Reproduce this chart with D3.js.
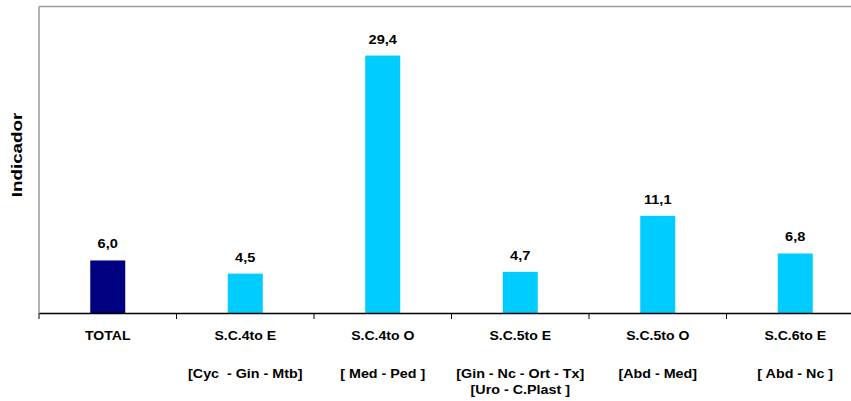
<!DOCTYPE html>
<html>
<head>
<meta charset="utf-8">
<script src="https://cdn.jsdelivr.net/npm/d3@7"></script>
<style>
  body { margin: 0; background: #fff; }
  svg { display: block; }
  text { font-family: Arial, "Liberation Sans", sans-serif; font-weight: bold; fill: #000; }
</style>
</head>
<body>
<svg id="chart" width="851" height="401"></svg>
<script>
const categories = ["TOTAL", "S.C.4to E", "S.C.4to O", "S.C.5to E", "S.C.5to O", "S.C.6to E"];
const subLabels = [
  [],
  ["[Cyc  - Gin - Mtb]"],
  ["[ Med - Ped ]"],
  ["[Gin - Nc - Ort - Tx]", "[Uro - C.Plast ]"],
  ["[Abd - Med]"],
  ["[ Abd - Nc ]"]
];
const values = [6.0, 4.5, 29.4, 4.7, 11.1, 6.8];
const valueLabels = ["6,0", "4,5", "29,4", "4,7", "11,1", "6,8"];
const yLabel = "Indicador";
const yDomain = [0, 35];

(function () {
const svg = d3.select("#chart");
const mLeft = 39, mTop = 6.5, mBottom = 313, bandW = 137.5;
const mRight = mLeft + bandW * categories.length;

const x = d3.scaleBand().domain(categories).range([mLeft, mRight]).paddingInner(0).paddingOuter(0);
const y = d3.scaleLinear().domain(yDomain).range([mBottom, mTop]);

// frame (gray top & left)
svg.append("line").attr("x1", mLeft).attr("x2", mRight).attr("y1", mTop).attr("y2", mTop)
  .attr("stroke", "#9a9a9a").attr("stroke-width", 1.5);
svg.append("line").attr("x1", mLeft).attr("x2", mLeft).attr("y1", mTop).attr("y2", mBottom)
  .attr("stroke", "#9a9a9a").attr("stroke-width", 1.5);

// bars
const barW = 35;
svg.selectAll("rect.bar").data(values).enter().append("rect")
  .attr("class", "bar")
  .attr("x", (d, i) => x(categories[i]) + x.bandwidth() / 2 - barW / 2)
  .attr("y", d => y(d))
  .attr("width", barW)
  .attr("height", d => y(0) - y(d))
  .attr("fill", (d, i) => i === 0 ? "#000080" : "#00CCFF");

// x axis
const xAxis = d3.axisBottom(x).tickSize(0).tickFormat("");
const gx = svg.append("g").attr("transform", `translate(0,${mBottom})`).call(xAxis);
gx.select(".domain").attr("stroke", "#000").attr("stroke-width", 1.5);
const edges = categories.map(c => x(c)).concat([mRight]);
gx.selectAll("line.edge").data(edges).enter().append("line")
  .attr("class", "edge")
  .attr("x1", d => d).attr("x2", d => d).attr("y1", 0).attr("y2", 6)
  .attr("stroke", "#000").attr("stroke-width", 1);

function stretch(sel, f) {
  sel.each(function () {
    const L = this.getComputedTextLength();
    d3.select(this).attr("textLength", L * f).attr("lengthAdjust", "spacingAndGlyphs");
  });
}

// category labels
const cat = svg.selectAll("text.cat").data(categories).enter().append("text")
  .attr("class", "cat")
  .attr("x", d => x(d) + x.bandwidth() / 2)
  .attr("y", 340)
  .attr("text-anchor", "middle")
  .style("font-size", "13px")
  .text(d => d);
stretch(cat, 1.08);

// sub labels
categories.forEach((c, i) => {
  subLabels[i].forEach((s, j) => {
    const t = svg.append("text")
      .attr("x", x(c) + x.bandwidth() / 2)
      .attr("y", 378 + j * 16)
      .attr("text-anchor", "middle")
      .attr("xml:space", "preserve")
      .style("white-space", "pre")
      .style("font-size", "13px")
      .text(s);
    stretch(t, 1.1);
  });
});

// value labels
const vl = svg.selectAll("text.val").data(values).enter().append("text")
  .attr("class", "val")
  .attr("x", (d, i) => x(categories[i]) + x.bandwidth() / 2)
  .attr("y", d => y(d) - 12)
  .attr("text-anchor", "middle")
  .style("font-size", "13px")
  .text((d, i) => valueLabels[i]);
stretch(vl, 1.12);

// y label
const yl = svg.append("text")
  .attr("transform", "translate(22,155) rotate(-90)")
  .attr("text-anchor", "middle")
  .style("font-size", "15px")
  .text(yLabel);
stretch(yl, 1.25);
})();
</script>
</body>
</html>
